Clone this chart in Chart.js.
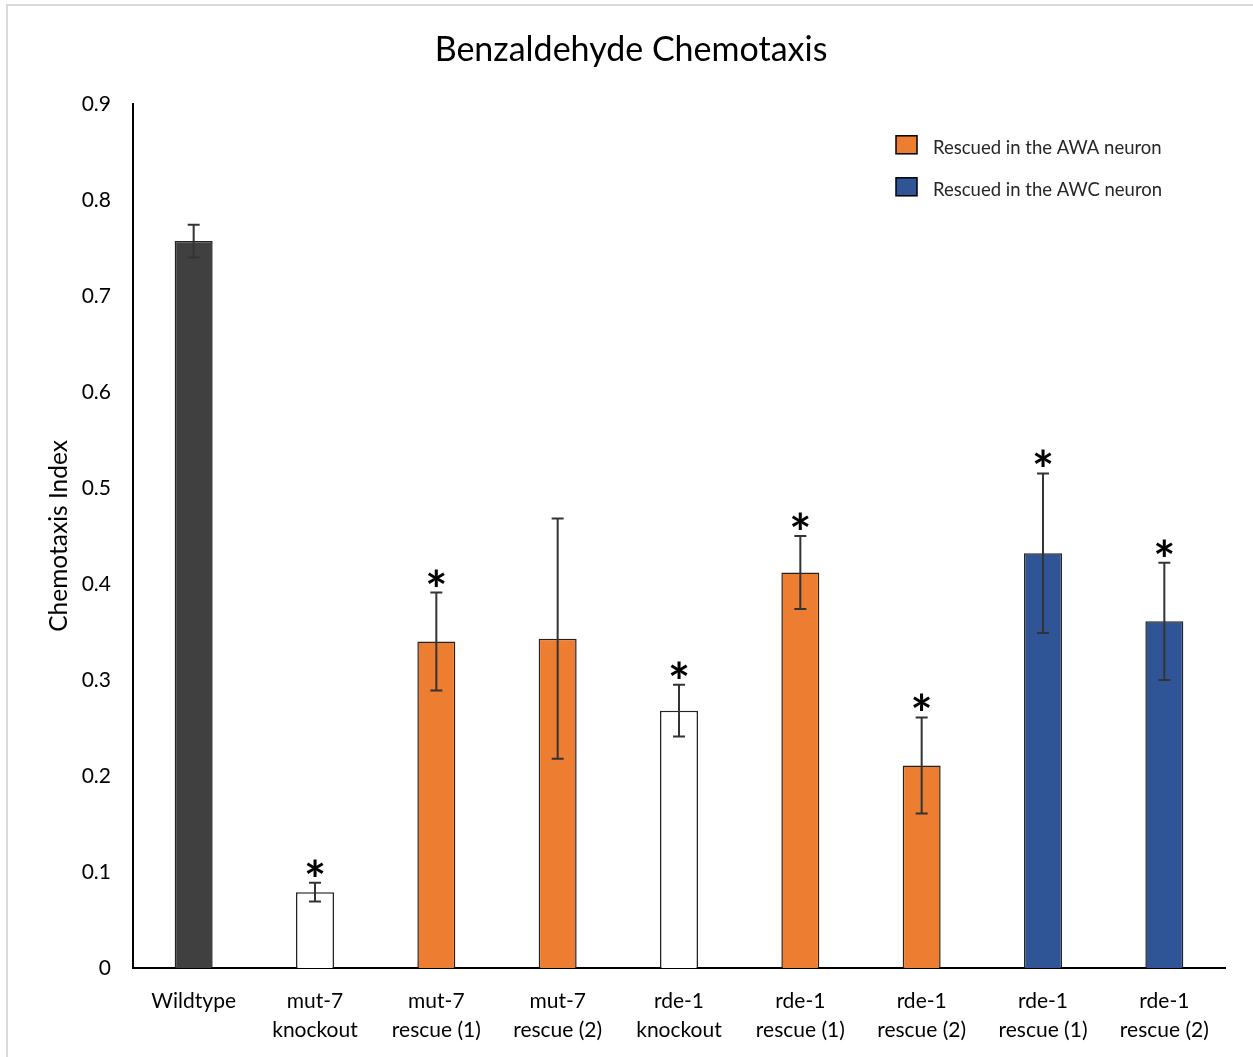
<!DOCTYPE html>
<html>
<head>
<meta charset="utf-8">
<script src="https://cdn.jsdelivr.net/npm/chart.js@4.4.1/dist/chart.umd.min.js"></script>
<style>
  body { margin: 0; background: #fff; overflow: hidden; }
  #frame { position: absolute; left: 6px; top: 4px; width: 1260px; height: 1070px;
           border-left: 2px solid #d9d9d9; border-top: 2px solid #d9d9d9; }
  #myChart { position: absolute; left: 0; top: 0; }
</style>
</head>
<body>
<div id="frame"></div>
<canvas id="myChart" width="1253" height="1057"></canvas>
<script>
// data
const strains = [
    ['Wildtype'],
    ['mut-7', 'knockout'],
    ['mut-7', 'rescue (1)'],
    ['mut-7', 'rescue (2)'],
    ['rde-1', 'knockout'],
    ['rde-1', 'rescue (1)'],
    ['rde-1', 'rescue (2)'],
    ['rde-1', 'rescue (1)'],
    ['rde-1', 'rescue (2)']
];
const chemotaxisIndex = [0.757, 0.079, 0.340, 0.343, 0.268, 0.412, 0.211, 0.432, 0.361];
const errorSize = [0.017, 0.0097, 0.051, 0.125, 0.027, 0.038, 0.050, 0.083, 0.061];
const significant = [false, true, true, false, true, true, true, true, true];
const group = ['wt', 'ko', 'awa', 'awa', 'ko', 'awa', 'awa', 'awc', 'awc'];
const legendLabels = ['Rescued in the AWA neuron', 'Rescued in the AWC neuron'];
const legendGroups = ['awa', 'awc'];

const groupColors = { wt: '#404040', ko: '#ffffff', awa: '#ED7D31', awc: '#2F5597' };
const FONT = 'Lato';

const errorBars = {
    id: 'errorBars',
    afterDatasetsDraw(chart) {
        const ctx = chart.ctx;
        const y = chart.scales.y;
        const meta = chart.getDatasetMeta(0);
        ctx.save();
        chemotaxisIndex.forEach((v, i) => {
            const x = meta.data[i].x;
            const top = y.getPixelForValue(v + errorSize[i]);
            const bot = y.getPixelForValue(v - errorSize[i]);
            ctx.strokeStyle = '#333';
            ctx.lineWidth = 2;
            ctx.beginPath();
            ctx.moveTo(x, top); ctx.lineTo(x, bot);
            ctx.moveTo(x - 6, top); ctx.lineTo(x + 6, top);
            ctx.moveTo(x - 6, bot); ctx.lineTo(x + 6, bot);
            ctx.stroke();
            if (significant[i]) {
                ctx.fillStyle = '#000';
                ctx.font = 'bold 52px ' + FONT;
                ctx.textAlign = 'center';
                ctx.textBaseline = 'alphabetic';
                const m = ctx.measureText('*');
                const mid = (m.actualBoundingBoxAscent - m.actualBoundingBoxDescent) / 2;
                ctx.fillText('*', x, top - 15 + mid);
            }
        });
        ctx.restore();
    }
};

const boxLegend = {
    id: 'boxLegend',
    afterDraw(chart) {
        const ctx = chart.ctx;
        const area = chart.chartArea;
        ctx.save();
        legendLabels.forEach((label, i) => {
            const bx = area.right - 329;
            const by = area.top + 32 + i * 42;
            ctx.fillStyle = groupColors[legendGroups[i]];
            ctx.fillRect(bx, by, 21, 18);
            ctx.strokeStyle = '#000';
            ctx.lineWidth = 1.5;
            ctx.strokeRect(bx, by, 21, 18);
            ctx.fillStyle = '#262626';
            ctx.font = '18.5px ' + FONT;
            ctx.textAlign = 'left';
            ctx.textBaseline = 'middle';
            ctx.fillText(label, bx + 37, by + 12);
        });
        ctx.restore();
    }
};

const data = {
    labels: strains,
    datasets: [{
        label: 'Chemotaxis Index',
        data: chemotaxisIndex,
        backgroundColor: group.map(g => groupColors[g]),
        borderColor: '#222',
        borderWidth: 1.5,
        barPercentage: 0.313,
        categoryPercentage: 1
    }]
};

const config = {
    type: 'bar',
    data: data,
    options: {
        responsive: false,
        devicePixelRatio: 1,
        animation: false,
        layout: { padding: { left: 9, right: 0, top: 0, bottom: 0 } },
        plugins: {
            legend: { display: false },
            tooltip: { enabled: false },
            title: {
                display: true,
                text: 'Benzaldehyde Chemotaxis',
                color: '#000',
                font: { family: FONT, size: 34, weight: 'normal' },
                padding: { top: 30, bottom: 33 }
            }
        },
        scales: {
            x: {
                grid: { display: false, drawTicks: false },
                border: { display: true, color: '#000', width: 2 },
                ticks: {
                    color: '#000',
                    font: { family: FONT, size: 21, lineHeight: 1.38 },
                    padding: 19,
                    maxRotation: 0,
                    autoSkip: false
                },
                afterFit: s => { s.height = 89; }
            },
            y: {
                min: 0,
                max: 0.9,
                grid: { display: false, drawTicks: false },
                border: { display: true, color: '#000', width: 2 },
                ticks: {
                    stepSize: 0.1,
                    color: '#000',
                    font: { family: FONT, size: 21 },
                    padding: 22,
                    callback: v => v === 0 ? '0' : v.toFixed(1)
                },
                title: {
                    display: true,
                    text: 'Chemotaxis Index',
                    color: '#000',
                    font: { family: FONT, size: 24.5 },
                    padding: { top: 35 }
                },
                afterFit: s => { s.width = 124; }
            },
            // empty right-hand box: keeps the plot 28px from the edge while the title stays centred on the frame
            spacer: {
                type: 'linear',
                position: 'right',
                display: true,
                grid: { display: false, drawTicks: false },
                border: { display: false },
                ticks: { display: false },
                afterFit: s => { s.width = 28; }
            }
        }
    },
    plugins: [errorBars, boxLegend]
};

const myChart = new Chart(document.getElementById('myChart'), config);
</script>
</body>
</html>
